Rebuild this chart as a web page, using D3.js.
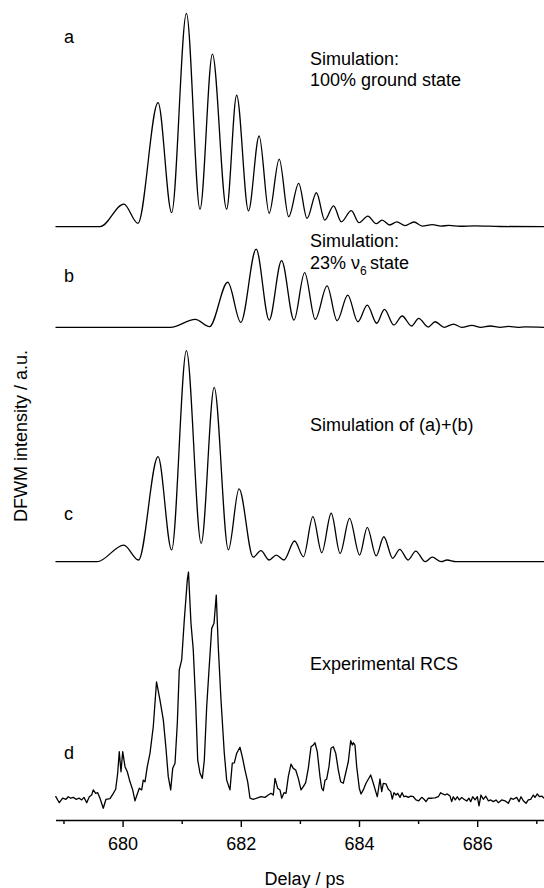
<!DOCTYPE html>
<html>
<head>
<meta charset="utf-8">
<script src="https://cdn.jsdelivr.net/npm/d3@7"></script>
<style>
  body { margin: 0; background: #fff; }
  text { font-family: "Liberation Sans", Arial, sans-serif; fill: #000; }
</style>
</head>
<body>
<div class="chart"></div>
<script>

// Delay axis ticks (ps)
var majorTicks = [680, 682, 684, 686];
var minorTicks = [679, 681, 683, 685, 687];

// Trace (a): simulation, 100% ground state  [delay / ps, intensity]
var traceA = [
  [678.865, 0], [679.62, 0], [680.02, 0.106], [680.26, 0.016], [680.60, 0.581],
  [680.83, 0.066], [681.08, 1.0], [681.31, 0.082], [681.52, 0.809], [681.76, 0.082],
  [681.93, 0.617], [682.13, 0.074], [682.31, 0.425], [682.48, 0.063], [682.65, 0.317],
  [682.81, 0.047], [682.98, 0.203], [683.12, 0.039], [683.28, 0.159], [683.42, 0.031],
  [683.57, 0.098], [683.70, 0.023], [683.87, 0.075], [684.00, 0.019], [684.15, 0.050],
  [684.29, 0.014], [684.39, 0.031], [684.52, 0.008], [684.64, 0.023], [684.78, 0.005],
  [684.93, 0.022], [685.07, 0.003], [685.24, 0.010], [685.39, 0.003], [685.52, 0.006],
  [685.71, 0.002], [685.96, 0.004], [686.39, 0.001], [687.13, 0]
];

// Trace (b): simulation, 23% v6 state
var traceB = [
  [678.865, 0], [680.81, 0], [681.23, 0.037], [681.47, 0.003], [681.78, 0.211],
  [682.00, 0.023], [682.26, 0.366], [682.48, 0.034], [682.69, 0.312], [682.90, 0.034],
  [683.08, 0.256], [683.26, 0.037], [683.46, 0.194], [683.63, 0.031], [683.81, 0.151],
  [683.98, 0.026], [684.14, 0.104], [684.30, 0.019], [684.43, 0.084], [684.59, 0.011],
  [684.73, 0.053], [684.89, 0.006], [685.01, 0.042], [685.17, 0.001], [685.29, 0.026],
  [685.44, 0], [685.60, 0.015], [685.74, 0], [685.91, 0.009], [686.06, 0],
  [686.22, 0.006], [686.39, 0], [686.53, 0.004], [686.69, 0], [686.81, 0.002], [687.13, 0]
];

// Trace (c): simulation of (a)+(b)
var traceC = [
  [678.865, 0], [679.57, 0], [680.02, 0.078], [680.27, 0.008], [680.60, 0.492],
  [680.83, 0.055], [681.08, 0.989], [681.33, 0.086], [681.55, 0.817], [681.79, 0.055],
  [681.97, 0.341], [682.21, 0.021], [682.34, 0.052], [682.48, 0.008], [682.60, 0.031],
  [682.73, 0.008], [682.91, 0.097], [683.06, 0.023], [683.22, 0.211], [683.37, 0.042],
  [683.53, 0.227], [683.68, 0.039], [683.84, 0.203], [684.01, 0.031], [684.14, 0.161],
  [684.29, 0.027], [684.42, 0.117], [684.57, 0.016], [684.69, 0.058], [684.83, 0.008],
  [684.96, 0.050], [685.12, 0], [685.24, 0.021], [685.39, 0], [685.49, 0.008],
  [685.64, 0], [687.13, 0]
];

// Trace (d): experimental RCS
var traceD = [
  [678.865, 0.023], [678.929, -0.008], [678.986, 0.013], [679.042, 0.008], [679.081, 0.020],
  [679.122, 0.013], [679.166, 0.017], [679.212, 0.008], [679.267, 0.013], [679.308, 0.005],
  [679.347, 0.017], [679.393, -0.008], [679.437, 0.020], [679.477, 0.028], [679.504, 0.052],
  [679.545, 0.036], [679.579, 0.039], [679.618, 0.013], [679.673, -0.034], [679.719, 0.008],
  [679.787, 0.011], [679.843, 0.036], [679.883, 0.055], [679.917, 0.130], [679.944, 0.231],
  [679.973, 0.137], [680.002, 0.231], [680.041, 0.161], [680.080, 0.137], [680.125, 0.090],
  [680.171, 0.052], [680.210, 0.001], [680.249, 0.033], [680.283, 0.060], [680.323, 0.052],
  [680.350, 0.098], [680.379, 0.090], [680.418, 0.161], [680.464, 0.224], [680.519, 0.348],
  [680.574, 0.558], [680.633, 0.473], [680.689, 0.380], [680.734, 0.247], [680.773, 0.114],
  [680.814, 0.052], [680.848, 0.153], [680.887, 0.177], [680.926, 0.364], [680.959, 0.614],
  [681.000, 0.661], [681.044, 0.848], [681.095, 1.036], [681.115, 1.073], [681.157, 0.833],
  [681.196, 0.708], [681.237, 0.458], [681.271, 0.192], [681.310, 0.130], [681.349, 0.106],
  [681.383, 0.192], [681.423, 0.442], [681.462, 0.614], [681.508, 0.809], [681.547, 0.833],
  [681.585, 0.965], [681.619, 0.723], [681.665, 0.473], [681.721, 0.224], [681.761, 0.098],
  [681.817, 0.052], [681.856, 0.177], [681.890, 0.179], [681.931, 0.224], [681.986, 0.252],
  [682.025, 0.208], [682.071, 0.145], [682.117, 0.090], [682.156, 0.013], [682.211, 0.008],
  [682.269, 0.013], [682.342, 0.020], [682.409, 0.017], [682.465, 0.028], [682.511, 0.036],
  [682.550, 0.028], [682.579, 0.106], [682.624, 0.060], [682.663, 0.052], [682.692, 0.013],
  [682.731, 0.039], [682.765, 0.036], [682.804, 0.114], [682.849, 0.173], [682.888, 0.153],
  [682.929, 0.145], [682.973, 0.106], [683.019, 0.052], [683.058, 0.067], [683.098, 0.086],
  [683.142, 0.153], [683.188, 0.254], [683.227, 0.262], [683.255, 0.273], [683.294, 0.231],
  [683.340, 0.114], [683.369, 0.060], [683.396, 0.048], [683.425, 0.098], [683.453, 0.102],
  [683.492, 0.161], [683.526, 0.247], [683.565, 0.254], [683.606, 0.224], [683.650, 0.145],
  [683.690, 0.090], [683.734, 0.083], [683.780, 0.137], [683.819, 0.184], [683.860, 0.283],
  [683.887, 0.262], [683.904, 0.273], [683.932, 0.262], [683.961, 0.161], [684.005, 0.060],
  [684.034, 0.033], [684.073, 0.052], [684.118, 0.083], [684.157, 0.102], [684.198, 0.122],
  [684.242, 0.083], [684.283, 0.044], [684.310, 0.020], [684.355, 0.103], [684.384, 0.044],
  [684.411, 0.083], [684.457, 0.080], [684.496, 0.055], [684.536, 0.044], [684.563, 0.009],
  [684.592, 0.039], [684.626, 0.028], [684.655, 0.036], [684.694, 0.017], [684.728, 0.039],
  [684.761, 0.020], [684.795, 0.023], [684.834, 0.017], [684.875, 0.023], [684.919, 0.020],
  [684.964, 0.005], [685.010, 0.001], [685.061, 0.017], [685.100, 0.008], [685.134, -0.003],
  [685.173, 0.013], [685.230, 0.013], [685.286, 0.015], [685.342, 0.020], [685.382, 0.039],
  [685.416, 0.033], [685.455, 0.028], [685.494, 0.033], [685.540, 0.023], [685.568, -0.003],
  [685.595, 0.020], [685.629, 0.005], [685.663, 0.020], [685.697, 0.005], [685.738, 0.017],
  [685.776, 0.008], [685.822, 0.000], [685.861, 0.013], [685.890, -0.003], [685.924, 0.020],
  [685.963, 0.005], [686.002, 0.020], [686.030, -0.023], [686.064, 0.028], [686.103, 0.008],
  [686.144, 0.023], [686.188, 0.001], [686.228, 0.005], [686.272, -0.003], [686.318, 0.005],
  [686.357, -0.008], [686.414, 0.005], [686.470, 0.001], [686.526, -0.011], [686.567, 0.013],
  [686.611, 0.008], [686.668, 0.017], [686.707, -0.003], [686.741, 0.020], [686.780, 0.001],
  [686.826, -0.011], [686.864, 0.005], [686.905, 0.008], [686.949, 0.028], [686.978, 0.017],
  [687.017, 0.033], [687.051, 0.020], [687.091, 0.023], [687.130, 0.013]
];

var width = 544, height = 888;
var unitHeight = 213.4;   // pixels for intensity 1.0

var svg = d3.select(".chart")
  .append("svg")
    .attr("width", width)
    .attr("height", height);

svg.append("rect").attr("width", width).attr("height", height).attr("fill", "#fff");

var x = d3.scaleLinear()
  .domain([678.865, 687.13])
  .range([55.5, 544]);

// One stacked panel per trace
var panels = [
  { data: traceA, base: 226.7, smooth: true, letter: "a", letterY: 43, labels: ["Simulation:", "100% ground state"], labelY: 65 },
  { data: traceB, base: 327.3, smooth: true, letter: "b", letterY: 282, labels: ["Simulation:", null], labelY: 247 },
  { data: traceC, base: 561.7, smooth: true, letter: "c", letterY: 520, labels: ["Simulation of (a)+(b)"], labelY: 431 },
  { data: traceD, base: 801, smooth: false, letter: "d", letterY: 759, labels: ["Experimental RCS"], labelY: 670 }
];

panels.forEach(function(p) {
  var y = d3.scaleLinear().domain([0, 1]).range([p.base, p.base - unitHeight]);

  var line = d3.line()
    .x(function(d) { return x(d[0]); })
    .y(function(d) { return y(d[1]); })
    .curve(p.smooth ? d3.curveMonotoneX : d3.curveLinear);

  svg.append("path")
    .datum(p.data)
    .attr("d", line)
    .attr("fill", "none")
    .attr("stroke", "#000")
    .attr("stroke-width", 1.3)
    .attr("stroke-linejoin", "round");

  svg.append("text")
    .attr("x", 64)
    .attr("y", p.letterY)
    .style("font-size", "18px")
    .text(p.letter);

  p.labels.forEach(function(t, i) {
    if (t === null) return;
    svg.append("text")
      .attr("x", 310)
      .attr("y", p.labelY + i * 21)
      .style("font-size", "18px")
      .text(t);
  });
});

// "23% v6 state" with subscript
var nu = svg.append("text")
  .attr("x", 310)
  .attr("y", 269)
  .style("font-size", "18px");
nu.append("tspan").text("23% \u03bd");
nu.append("tspan").attr("dy", 6).style("font-size", "12px").text("6");
nu.append("tspan").attr("x", 370).attr("dy", -6).text("state");

// Delay axis
var axisY = 820;
var xAxis = d3.axisBottom(x)
  .tickValues(majorTicks)
  .tickSize(7)
  .tickSizeOuter(0)
  .tickPadding(10)
  .tickFormat(d3.format("d"));

var gx = svg.append("g")
  .attr("transform", "translate(0," + axisY + ")")
  .call(xAxis);

gx.select(".domain").attr("stroke-width", 1.4);
gx.selectAll(".tick line").attr("stroke-width", 1.4);
gx.selectAll(".tick text")
  .attr("font-family", "Liberation Sans, Arial, sans-serif")
  .attr("font-size", 18);

var gm = svg.append("g")
  .attr("transform", "translate(0," + axisY + ")")
  .call(d3.axisBottom(x).tickValues(minorTicks).tickSize(4).tickFormat(""));
gm.select(".domain").remove();
gm.selectAll(".tick line").attr("stroke-width", 1.4);

// Axis titles
svg.append("text")
  .attr("x", 304.5)
  .attr("y", 885)
  .attr("text-anchor", "middle")
  .style("font-size", "18px")
  .text("Delay / ps");

svg.append("text")
  .attr("transform", "translate(26.5,436) rotate(-90)")
  .attr("text-anchor", "middle")
  .style("font-size", "18px")
  .text("DFWM intensity / a.u.");

</script>
</body>
</html>
